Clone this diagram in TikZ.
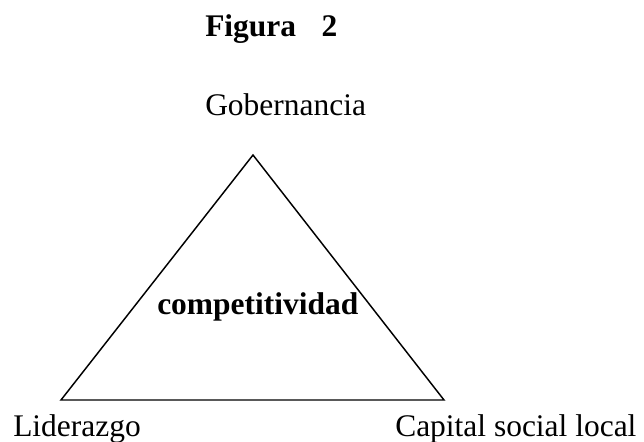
\documentclass[tikz,border=0pt]{standalone}
\usepackage{fontspec}
\setmainfont{Liberation Serif}
\usetikzlibrary{positioning}
\tikzset{
  lbl/.style={inner sep=0pt, anchor=base west, font=\fontsize{23.6}{28}\selectfont},
  blbl/.style={lbl, font=\fontsize{23.6}{28}\selectfont\bfseries},
}

\begin{document}
\begin{tikzpicture}[x=0.75pt,y=-0.75pt]
  \useasboundingbox (0,0) rectangle (644,442);
  % title and vertex labels
  \node[blbl] (title) at (205,37) {Figura\hspace{19pt}2};
  \node[lbl] (gob) at (205,116) {Gobernancia};
  \node[lbl] (lid) at (13,437) {Liderazgo};
  \node[lbl] (cap) at (395,437) {Capital social local};
  % triangle
  \coordinate (apex) at (253,155);
  \coordinate (bl) at (61,400);
  \coordinate (br) at (444,400);
  \draw[line width=1.1pt, line join=miter] (apex) -- (br) -- (bl) -- cycle;
  \node[blbl] (comp) at (157,315) {competitividad};
\end{tikzpicture}
\end{document}
